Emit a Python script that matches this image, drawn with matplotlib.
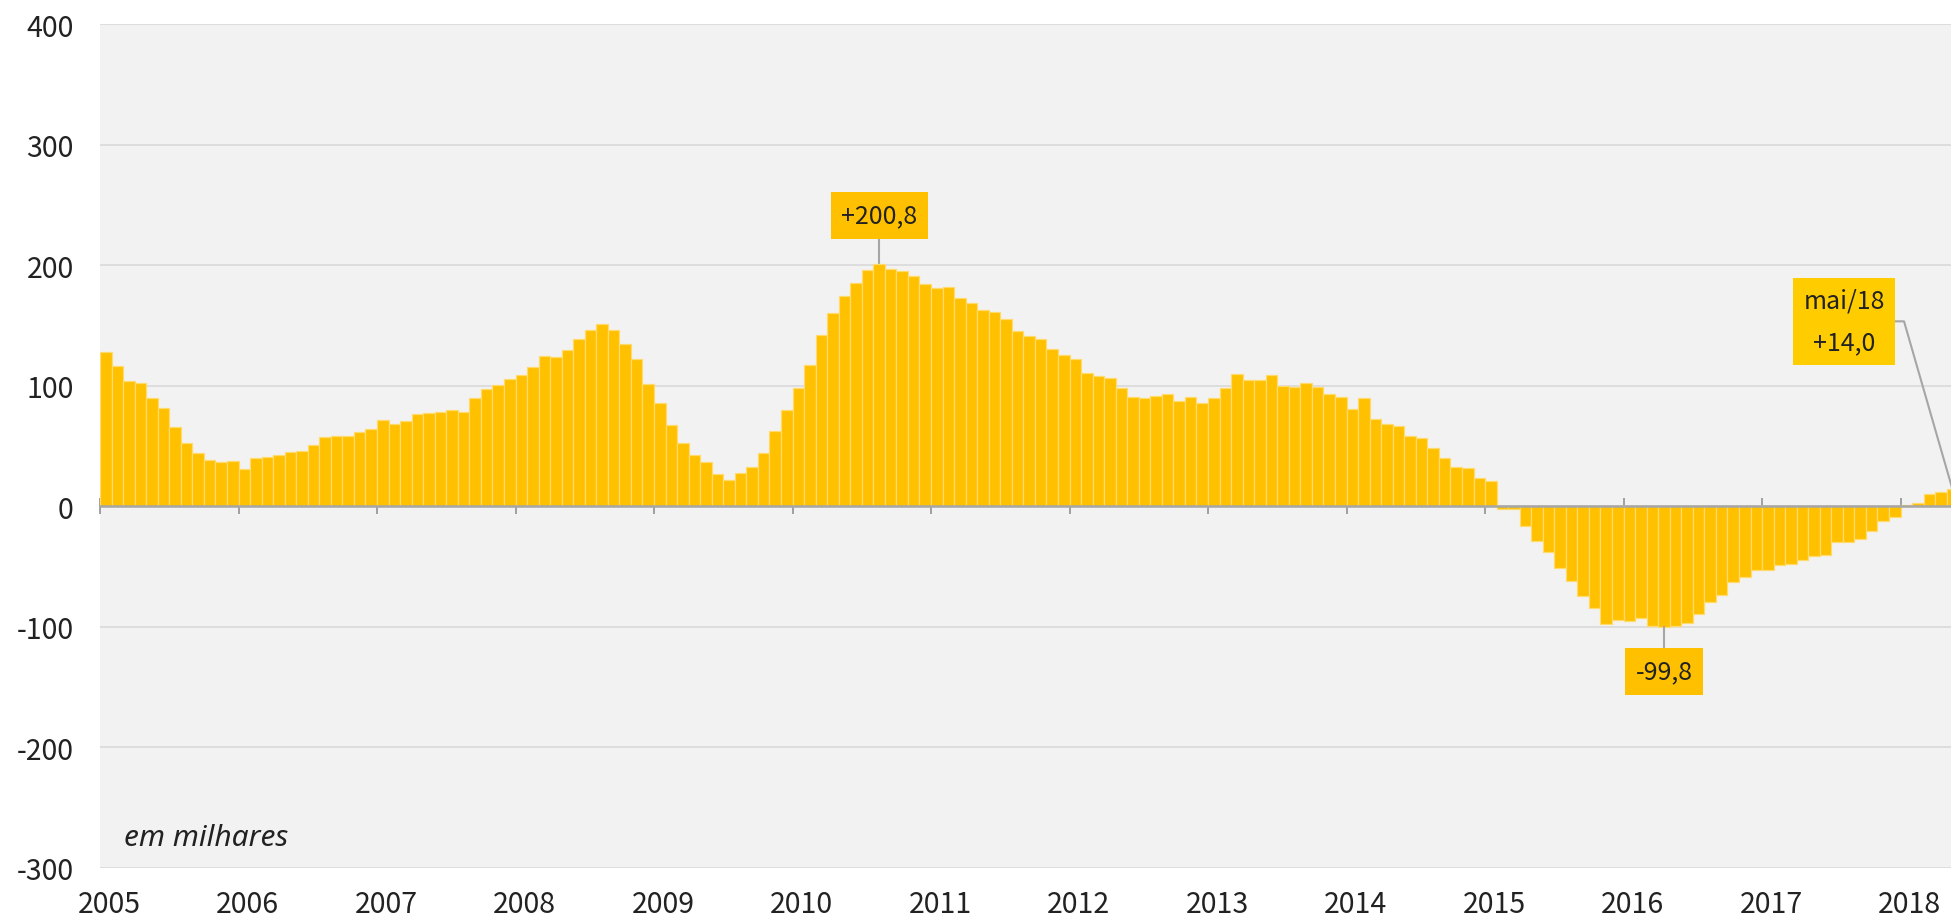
import matplotlib.pyplot as plt
import matplotlib.transforms as mtransforms
import numpy as np

plt.rcParams["font.family"] = ["Noto Sans CJK JP", "DejaVu Sans"]
plt.rcParams["axes.unicode_minus"] = False

# monthly values, thousands (jan/2005 .. mai/2018)
values_2005 = [128.3, 116.6, 104.2, 101.9, 90.0, 81.2, 65.7, 52.4, 44.0, 38.2, 36.6, 37.4]
values_2006 = [30.7, 39.9, 40.7, 42.7, 44.9, 45.7, 50.7, 57.3, 58.2, 58.2, 61.8, 64.3]
values_2007 = [71.5, 68.1, 70.7, 76.5, 77.3, 78.2, 79.8, 78.5, 89.8, 97.5, 100.6, 105.8]
values_2008 = [109.1, 115.5, 124.6, 123.8, 129.6, 138.7, 146.1, 151.4, 146.1, 134.8, 122.1, 101.7]
values_2009 = [85.6, 67.1, 52.8, 42.5, 36.5, 26.8, 21.8, 27.5, 32.5, 44.1, 62.2, 79.7]
values_2010 = [98.2, 117.0, 141.9, 160.2, 174.5, 185.1, 195.9, 200.8, 196.7, 195.0, 190.9, 184.2]
values_2011 = [180.9, 182.0, 172.6, 168.7, 162.7, 161.0, 155.7, 145.2, 141.1, 138.6, 130.3, 125.3]
values_2012 = [122.0, 110.6, 108.4, 106.1, 98.3, 90.9, 89.5, 91.7, 92.8, 87.6, 90.9, 85.6]
values_2013 = [89.8, 98.3, 109.4, 105.0, 105.0, 108.6, 99.7, 99.2, 101.9, 98.9, 92.8, 90.9]
values_2014 = [80.9, 90.1, 72.7, 68.0, 66.6, 58.6, 56.9, 48.6, 40.1, 32.6, 32.0, 23.5]
values_2015 = [21.3, -2.0, -2.2, -16.3, -28.4, -38.3, -51.0, -62.3, -74.4, -84.6, -97.8, -93.9]
values_2016 = [-94.8, -92.3, -99.6, -99.8, -99.2, -96.4, -89.3, -79.1, -73.3, -63.1, -59.0, -53.1]
values_2017 = [-52.5, -48.6, -47.8, -44.5, -41.2, -40.3, -29.3, -29.3, -27.1, -20.5, -12.2, -8.7]
values_2018 = [0.8, 2.5, 10.0, 11.6, 14.0]

values = (values_2005 + values_2006 + values_2007 + values_2008 + values_2009
          + values_2010 + values_2011 + values_2012 + values_2013 + values_2014
          + values_2015 + values_2016 + values_2017 + values_2018)
years = list(range(2005, 2019))
y_ticks = [-300, -200, -100, 0, 100, 200, 300, 400]

# highlighted points: (month index, label)
peak_idx, peak_label = 67, "+200,8"
low_idx, low_label = 135, "-99,8"
last_idx, last_label = len(values) - 1, "mai/18\n+14,0"

GOLD = "#FFC000"
LINE = "#a6a6a6"
TXT = "#222222"

fig = plt.figure(figsize=(19.51, 9.2), dpi=100)
ax = fig.add_axes([100 / 1951, 1 - 869 / 920, 1 - 100 / 1951, (869 - 25) / 920])
ax.set_facecolor("#f2f2f2")

x = np.arange(len(values))
ax.bar(x, values, width=1.0, align="edge", color=GOLD, edgecolor="#ffdb6e", linewidth=0.9, zorder=3)

ax.set_xlim(0, 160.37)
ax.set_ylim(-300, 400)
ax.set_yticks(y_ticks)
ax.set_yticklabels([str(v) for v in y_ticks])
ax.tick_params(axis="y", length=0, pad=19, labelsize=20.5, labelcolor=TXT)
ax.grid(axis="y", color="#d9d9d9", linewidth=1.2, zorder=0)

for side in ["top", "right", "left"]:
    ax.spines[side].set_visible(False)
ax.spines["bottom"].set_position(("data", 0))
ax.spines["bottom"].set_color(LINE)
ax.spines["bottom"].set_linewidth(1.8)
ax.spines["bottom"].set_zorder(4)

year_pos = [12 * i for i in range(len(years))]
ax.set_xticks(year_pos)
ax.tick_params(axis="x", direction="inout", length=12, width=1.3, color="#999999", labelbottom=False)

sec = ax.secondary_xaxis("bottom")
sec.set_xticks(year_pos)
sec.set_xticklabels([str(y) for y in years])
sec.tick_params(length=0, pad=15, labelsize=20.5, labelcolor=TXT)
sec.spines["bottom"].set_visible(False)
offset = mtransforms.ScaledTranslation(9 / 100, 0, fig.dpi_scale_trans)
for lab in sec.get_xticklabels():
    lab.set_transform(lab.get_transform() + offset)

box = dict(boxstyle="square,pad=0.42", facecolor=GOLD, edgecolor="none")

# peak
px = peak_idx + 0.5
ax.plot([px, px], [values[peak_idx], 221], color=LINE, lw=1.5, zorder=2)
ax.text(px, 241, peak_label, ha="center", va="center", fontsize=18, color=TXT, bbox=box, zorder=5)

# low
lx = low_idx + 0.5
ax.plot([lx, lx], [values[low_idx], -117], color=LINE, lw=1.5, zorder=5)
ax.text(lx, -137, low_label, ha="center", va="center", fontsize=18, color=TXT, bbox=box, zorder=5)

# last value
ex = last_idx + 0.5
ax.plot([155.2, 156.3, ex], [153.4, 153.4, values[last_idx]], color=LINE, lw=1.5, zorder=5, clip_on=False)
ax.text(151.1, 153.4, last_label, ha="center", va="center", fontsize=18, color=TXT,
        linespacing=1.75, bbox=dict(boxstyle="square,pad=0.4", facecolor="#FFCC00", edgecolor="none"), zorder=6)

ax.text(2.1, -274.5, "em milhares", ha="left", va="center", fontsize=21.5, style="italic",
        family="Noto Sans", color=TXT)

fig.savefig("out.png", dpi=100)
